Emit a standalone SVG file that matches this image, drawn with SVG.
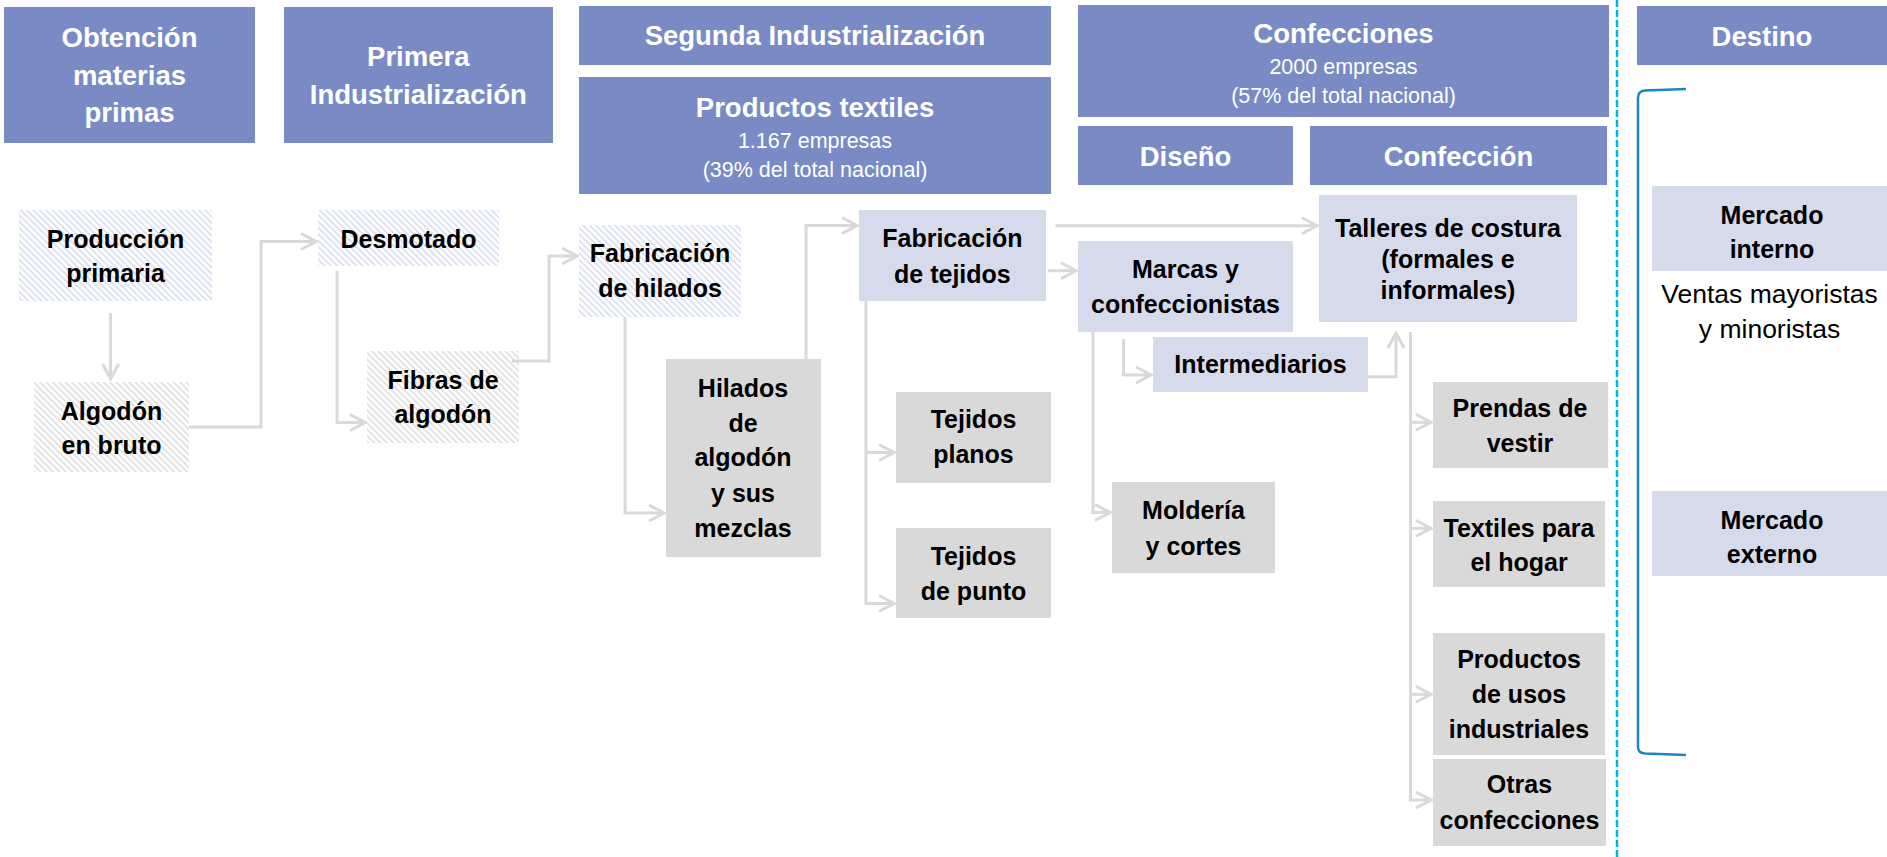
<svg xmlns="http://www.w3.org/2000/svg" width="1887" height="857" viewBox="0 0 1887 857">
<defs>
<pattern id="hatchBlue" patternUnits="userSpaceOnUse" width="4.5" height="4.5" patternTransform="rotate(-45)">
<rect width="4.5" height="4.5" fill="#ffffff"/>
<rect x="0" y="0" width="2" height="4.5" fill="#DDE1F0"/>
</pattern>
<pattern id="hatchGray" patternUnits="userSpaceOnUse" width="4.5" height="4.5" patternTransform="rotate(-45)">
<rect width="4.5" height="4.5" fill="#ffffff"/>
<rect x="0" y="0" width="2" height="4.5" fill="#E2E2E2"/>
</pattern>
<marker id="arr" markerUnits="userSpaceOnUse" viewBox="-18 -10 20 20" refX="0" refY="0" markerWidth="20" markerHeight="20" orient="auto">
<path d="M-15,-8 L0,0 L-15,8" fill="none" stroke="#D9D9D9" stroke-width="3"/>
</marker>
</defs>
<style>
.hdr{fill:#7A8AC5}
.lav{fill:#D6DBEC}
.gry{fill:#D9D9D9}
.hb{fill:url(#hatchBlue)}
.hg{fill:url(#hatchGray)}
.ht{font-family:"Liberation Sans",Arial,sans-serif;font-weight:bold;font-size:27.5px;fill:#ffffff;text-anchor:middle}
.hs{font-family:"Liberation Sans",Arial,sans-serif;font-size:21.5px;fill:#ffffff;text-anchor:middle}
.nt{font-family:"Liberation Sans",Arial,sans-serif;font-weight:bold;font-size:25px;fill:#000000;text-anchor:middle}
.pt{font-family:"Liberation Sans",Arial,sans-serif;font-size:26.5px;fill:#000000;text-anchor:middle}
.cn{fill:none;stroke:#D9D9D9;stroke-width:3}
</style>
<rect width="1887" height="857" fill="#ffffff"/>

<g id="header-obtencion"><rect class="hdr" x="4" y="7" width="251" height="136"/>
<text class="ht" x="129.5" y="47">Obtención</text><text class="ht" x="129.5" y="85">materias</text><text class="ht" x="129.5" y="122">primas</text></g>
<g id="header-primera"><rect class="hdr" x="284" y="7" width="269" height="136"/>
<text class="ht" x="418.3" y="66">Primera</text><text class="ht" x="418.3" y="103.5">Industrialización</text></g>
<g id="header-segunda"><rect class="hdr" x="579" y="6" width="472" height="59"/>
<text class="ht" x="815" y="45">Segunda Industrialización</text></g>
<g id="header-productos"><rect class="hdr" x="579" y="77" width="472" height="117"/>
<text class="ht" x="815" y="117">Productos textiles</text><text class="hs" x="815" y="148">1.167 empresas</text><text class="hs" x="815" y="177">(39% del total nacional)</text></g>
<g id="header-confecciones"><rect class="hdr" x="1078" y="5" width="531" height="112"/>
<text class="ht" x="1343.5" y="43">Confecciones</text><text class="hs" x="1343.5" y="74">2000 empresas</text><text class="hs" x="1343.5" y="103">(57% del total nacional)</text></g>
<g id="header-diseno"><rect class="hdr" x="1078" y="126" width="215" height="59"/>
<text class="ht" x="1185.5" y="166">Diseño</text></g>
<g id="header-confeccion"><rect class="hdr" x="1310" y="126" width="297" height="59"/>
<text class="ht" x="1458.5" y="166">Confección</text></g>
<g id="header-destino"><rect class="hdr" x="1637" y="6" width="250" height="59"/>
<text class="ht" x="1762" y="46">Destino</text></g>

<g id="produccion"><rect class="hb" x="19" y="210" width="193" height="91"/>
<text class="nt" x="115.5" y="248">Producción</text><text class="nt" x="115.5" y="282">primaria</text></g>
<g id="algodon-bruto"><rect class="hg" x="34" y="382" width="155" height="90"/>
<text class="nt" x="111.5" y="420">Algodón</text><text class="nt" x="111.5" y="454">en bruto</text></g>
<g id="desmotado"><rect class="hb" x="318" y="210" width="181" height="56"/>
<text class="nt" x="408.5" y="248">Desmotado</text></g>
<g id="fibras"><rect class="hg" x="367" y="351" width="152" height="92"/>
<text class="nt" x="443" y="389">Fibras de</text><text class="nt" x="443" y="423">algodón</text></g>
<g id="fab-hilados"><rect class="hb" x="579" y="225" width="162" height="92"/>
<text class="nt" x="660" y="262">Fabricación</text><text class="nt" x="660" y="297">de hilados</text></g>
<g id="hilados-mezclas"><rect class="gry" x="666" y="359" width="155" height="198"/>
<text class="nt" x="743" y="397">Hilados</text><text class="nt" x="743" y="432">de</text><text class="nt" x="743" y="466">algodón</text><text class="nt" x="743" y="502">y sus</text><text class="nt" x="743" y="537">mezclas</text></g>
<g id="fab-tejidos"><rect class="lav" x="859" y="210" width="187" height="91"/>
<text class="nt" x="952.4" y="247">Fabricación</text><text class="nt" x="952.4" y="283">de tejidos</text></g>
<g id="tejidos-planos"><rect class="gry" x="896" y="392" width="155" height="91"/>
<text class="nt" x="973.5" y="428">Tejidos</text><text class="nt" x="973.5" y="463">planos</text></g>
<g id="tejidos-punto"><rect class="gry" x="896" y="528" width="155" height="90"/>
<text class="nt" x="973.5" y="565">Tejidos</text><text class="nt" x="973.5" y="600">de punto</text></g>
<g id="marcas"><rect class="lav" x="1078" y="241" width="215" height="91"/>
<text class="nt" x="1185.5" y="278">Marcas y</text><text class="nt" x="1185.5" y="313">confeccionistas</text></g>
<g id="intermediarios"><rect class="lav" x="1153" y="337" width="215" height="55"/>
<text class="nt" x="1260.5" y="373">Intermediarios</text></g>
<g id="molderia"><rect class="gry" x="1112" y="482" width="163" height="91"/>
<text class="nt" x="1193.5" y="519">Moldería</text><text class="nt" x="1193.5" y="555">y cortes</text></g>
<g id="talleres"><rect class="lav" x="1319" y="195" width="258" height="127"/>
<text class="nt" x="1448" y="237">Talleres de costura</text><text class="nt" x="1448" y="268">(formales e</text><text class="nt" x="1448" y="299">informales)</text></g>
<g id="prendas"><rect class="gry" x="1433" y="382" width="175" height="86"/>
<text class="nt" x="1520" y="417">Prendas de</text><text class="nt" x="1520" y="452">vestir</text></g>
<g id="textiles-hogar"><rect class="gry" x="1433" y="501" width="172" height="86"/>
<text class="nt" x="1519" y="537">Textiles para</text><text class="nt" x="1519" y="571">el hogar</text></g>
<g id="productos-industriales"><rect class="gry" x="1433" y="633" width="172" height="122"/>
<text class="nt" x="1519" y="668">Productos</text><text class="nt" x="1519" y="703">de usos</text><text class="nt" x="1519" y="738">industriales</text></g>
<g id="otras"><rect class="gry" x="1433" y="759" width="173" height="87"/>
<text class="nt" x="1519.5" y="793">Otras</text><text class="nt" x="1519.5" y="829">confecciones</text></g>
<g id="mercado-interno"><rect class="lav" x="1652" y="186" width="235" height="85"/>
<text class="nt" x="1772" y="224">Mercado</text><text class="nt" x="1772" y="258">interno</text>
<text class="pt" x="1769.5" y="303">Ventas mayoristas</text><text class="pt" x="1769.5" y="338">y minoristas</text></g>
<g id="mercado-externo"><rect class="lav" x="1652" y="491" width="235" height="85"/>
<text class="nt" x="1772" y="529">Mercado</text><text class="nt" x="1772" y="563">externo</text></g>

<g id="separator"><line x1="1617" y1="0" x2="1617" y2="857" stroke="#00B0F0" stroke-width="2.5" stroke-dasharray="7,3"/></g>
<g id="bracket"><path d="M1686,89 L1645,90.5 Q1638,91 1638,98 L1638,747 Q1638,753 1645,753.5 L1686,755" fill="none" stroke="#1A87BE" stroke-width="2.5"/></g>

<g id="connectors">
<path class="cn" d="M110.6,313 V379" marker-end="url(#arr)"/>
<path class="cn" d="M189,427 H261 V241.5 H316" marker-end="url(#arr)"/>
<path class="cn" d="M337,271 V422.5 H365" marker-end="url(#arr)"/>
<path class="cn" d="M512,361 H549 V256 H577" marker-end="url(#arr)"/>
<path class="cn" d="M625,317 V513 H664" marker-end="url(#arr)"/>
<path class="cn" d="M806,359 V225.5 H857" marker-end="url(#arr)"/>
<path class="cn" d="M866,301 V603.5 H894" marker-end="url(#arr)"/>
<path class="cn" d="M866,452.5 H894" marker-end="url(#arr)"/>
<path class="cn" d="M1055.5,225.7 H1317" marker-end="url(#arr)"/>
<path class="cn" d="M1048,270.7 H1076" marker-end="url(#arr)"/>
<path class="cn" d="M1123.5,339 V375 H1151" marker-end="url(#arr)"/>
<path class="cn" d="M1093,332 V512.5 H1110" marker-end="url(#arr)"/>
<path class="cn" d="M1368,376.7 H1396 V333" marker-end="url(#arr)"/>
<path class="cn" d="M1410.5,332 V800 H1431" marker-end="url(#arr)"/>
<path class="cn" d="M1410.5,422.3 H1431" marker-end="url(#arr)"/>
<path class="cn" d="M1410.5,528.3 H1431" marker-end="url(#arr)"/>
<path class="cn" d="M1410.5,694.3 H1431" marker-end="url(#arr)"/>
</g>
</svg>
